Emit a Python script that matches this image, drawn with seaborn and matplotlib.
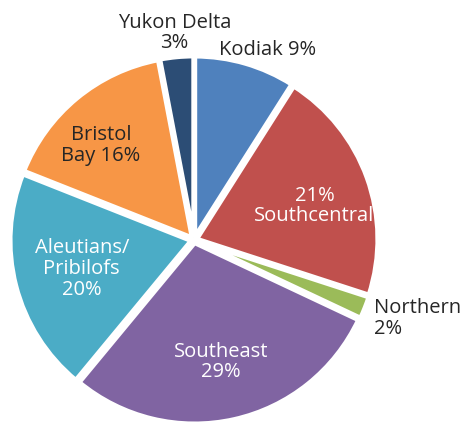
import numpy as np
import seaborn as sns
import matplotlib.pyplot as plt

regions = ['Kodiak', 'Southcentral', 'Northern', 'Southeast',
           'Aleutians/Pribilofs', 'Bristol Bay', 'Yukon Delta']
shares = [9, 21, 2, 29, 20, 16, 3]
labels = ['Kodiak 9%', '21%\nSouthcentral', 'Northern\n2%', 'Southeast\n29%',
          'Aleutians/\nPribilofs\n20%', 'Bristol\nBay 16%', 'Yukon Delta\n3%']
colors = ['#4F81BD', '#C0504D', '#9BBB59', '#8064A2',
          '#4BACC6', '#F79646', '#2C4D75']

# label placement: radial distance (fraction of radius), angle shift, colour, alignment
label_r = [1.11, 0.68, 1.16, 0.68, 0.63, 0.72, 1.13]
label_dt = [-5, -4, 0, 0, 0, 5, 0]
label_c = ['#262626', 'white', '#262626', 'white', 'white', '#262626', '#262626']
label_ha = ['center', 'center', 'left', 'center', 'center', 'center', 'center']

sns.set_theme(style='white')
plt.rcParams['font.family'] = ['Open Sans', 'DejaVu Sans']

fig = plt.figure(figsize=(4.64, 4.24), dpi=100)
ax = fig.add_axes([0, 0, 1, 1])
pal = sns.color_palette(colors)

wedges, _ = ax.pie(shares, colors=pal, startangle=90, counterclock=False,
                   radius=0.985, explode=[0.015] * len(shares),
                   wedgeprops=dict(edgecolor='white', linewidth=3.5))

for w, lab, r, dt, c, ha in zip(wedges, labels, label_r, label_dt, label_c, label_ha):
    mid = np.deg2rad((w.theta1 + w.theta2) / 2 + dt)
    x, y = r * np.cos(mid), r * np.sin(mid)
    if ha == 'left':
        x -= 0.1
    ax.text(x, y, lab, ha=ha, va='center', color=c, fontsize=14.5,
            linespacing=1.05)

s = 184
ax.set_xlim(-194 / s, (464 - 194) / s)
ax.set_ylim(-(424 - 240) / s, 240 / s)
ax.set_aspect('equal')
ax.axis('off')

fig.savefig('out.png', dpi=100)
